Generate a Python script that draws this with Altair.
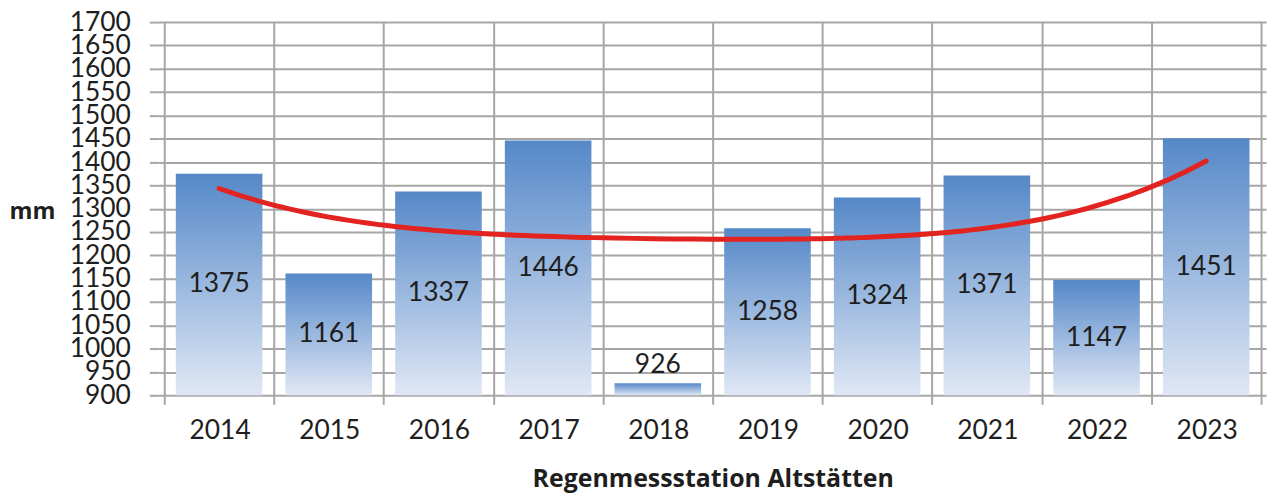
import altair as alt
import pandas as pd

years = [2014, 2015, 2016, 2017, 2018, 2019, 2020, 2021, 2022, 2023]
mm = [1375, 1161, 1337, 1446, 926, 1258, 1324, 1371, 1147, 1451]
y_ticks = list(range(900, 1701, 50))
x_bounds = [2013.5 + i for i in range(11)]

df = pd.DataFrame({"Jahr": years, "mm": mm})

W, H = 1112, 375
FONT = "Lato"
TFONT = "Open Sans"
NUM = 26.5
GRID = "#a6a6a6"
TXT = "#1e1e1e"

x_scale = alt.Scale(domain=[2013.5, 2023.5], nice=False, zero=False)
y_scale = alt.Scale(domain=[900, 1700], nice=False, zero=False)

x_axis = alt.Axis(
    values=x_bounds,
    labelExpr="datum.value < 2023 ? format(datum.value + 0.5, 'd') : ''",
    labelOffset=W / 20,
    labelFlush=False,
    labelOverlap=False,
    labelBound=False,
    grid=True, gridColor=GRID, gridWidth=2,
    ticks=True, tickSize=9, tickColor=GRID, tickWidth=2,
    domain=False,
    labelFont=FONT, labelFontSize=NUM, labelColor=TXT, labelPadding=13,
    title="Regenmessstation Altstätten",
    titleFont=TFONT, titleFontSize=25, titleFontWeight="bold", titleColor=TXT,
    titleX=W / 2, titleY=92, titleAlign="center", titleBaseline="alphabetic",
)
y_axis = alt.Axis(
    values=y_ticks,
    format="d",
    labelFlush=False,
    labelOverlap=False,
    grid=True, gridColor=GRID, gridWidth=2,
    ticks=True, tickSize=10, tickColor=GRID, tickWidth=2,
    domain=False,
    labelFont=FONT, labelFontSize=NUM, labelColor=TXT, labelPadding=19,
    title="mm", titleAngle=0, titleX=-128, titleY=197,
    titleAlign="center", titleBaseline="alphabetic",
    titleFont=TFONT, titleFontSize=23.5, titleFontWeight="bold", titleColor=TXT,
)

X = alt.X("Jahr:Q", scale=x_scale, axis=x_axis)
base = alt.Chart(df)

bars = base.mark_bar(
    size=87,
    color=alt.Gradient(
        gradient="linear", x1=0, y1=0, x2=0, y2=1,
        stops=[alt.GradientStop(offset=0, color="#5588c8"),
               alt.GradientStop(offset=1, color="#e0e8f5")],
    ),
).encode(
    x=X,
    y=alt.Y("mm:Q", scale=y_scale, axis=y_axis),
    y2=alt.datum(900),
)

labels_mid = base.transform_filter("datum.mm - 900 > 100").transform_calculate(
    mid="(datum.mm + 900) / 2"
).mark_text(font=FONT, fontSize=NUM, color=TXT, baseline="middle").encode(
    x=X,
    y=alt.Y("mid:Q", scale=y_scale, axis=y_axis),
    text=alt.Text("mm:Q", format="d"),
)

labels_small = base.transform_filter("datum.mm - 900 <= 100").mark_text(
    font=FONT, fontSize=NUM, color=TXT, baseline="bottom", dy=-4
).encode(
    x=X,
    y=alt.Y("mm:Q", scale=y_scale, axis=y_axis),
    text=alt.Text("mm:Q", format="d"),
)

trend = base.transform_regression("Jahr", "mm", method="poly", order=4).mark_line(
    color="#e2231f", strokeWidth=5, strokeCap="round"
).encode(
    x=X,
    y=alt.Y("mm:Q", scale=y_scale, axis=y_axis),
)

chart = alt.layer(bars, labels_mid, labels_small, trend).properties(
    width=W, height=H,
    autosize=alt.AutoSizeParams(type="none"),
    padding={"left": 152, "top": 13, "right": 3, "bottom": 100},
).configure_view(stroke=None)

chart.save("out.html", embed_options={"renderer": "svg", "actions": False})
